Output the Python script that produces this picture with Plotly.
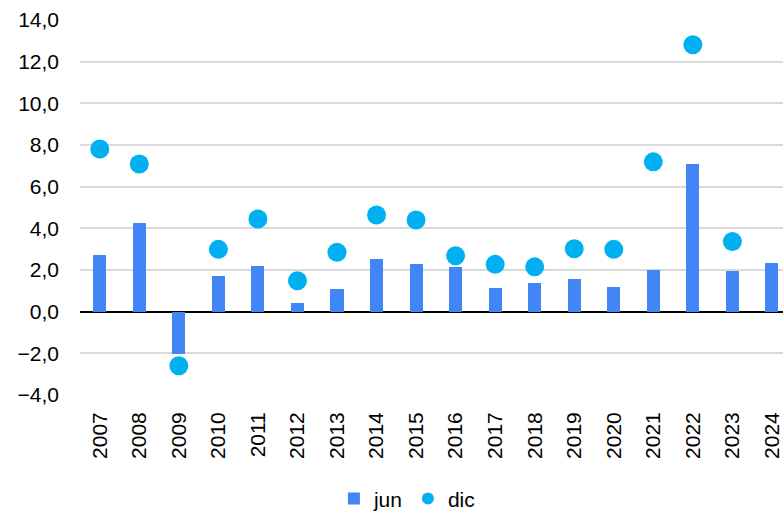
import plotly.graph_objects as go

# Annual values: June (bars) and December (dots)
years = [str(y) for y in range(2007, 2025)]
jun = [2.72, 4.27, -2.05, 1.72, 2.19, 0.42, 1.08, 2.54, 2.31, 2.15,
       1.15, 1.39, 1.56, 1.19, 2.00, 7.08, 1.95, 2.36]
dic = [7.81, 7.09, -2.60, 2.99, 4.45, 1.48, 2.85, 4.64, 4.40, 2.68,
       2.27, 2.15, 3.02, 2.99, 7.19, 12.81, 3.37, None]

y_ticks = [-4, -2, 0, 2, 4, 6, 8, 10, 12, 14]

FONT = "Liberation Sans, Arial, sans-serif"

fig = go.Figure()
fig.add_trace(go.Bar(
    x=years, y=jun, name="jun",
    marker=dict(color="#4285F4", line=dict(width=0)),
    width=0.33,
))
fig.add_trace(go.Scatter(
    x=years, y=dic, name="dic", mode="markers",
    marker=dict(color="#00B0F0", size=19, line=dict(width=0)),
))

fig.update_layout(
    width=783, height=512,
    margin=dict(l=80, r=0, t=20, b=117, autoexpand=False),
    paper_bgcolor="white", plot_bgcolor="white",
    separators=",.",
    font=dict(family=FONT, size=21, color="#000000"),
    showlegend=True,
    legend=dict(
        orientation="h", x=0.465, xanchor="center", y=-0.222, yanchor="top",
        font=dict(size=21), itemwidth=30, tracegroupgap=0,
        itemsizing="constant",
    ),
    bargap=0,
)
fig.update_xaxes(
    type="category",
    range=[-0.5, 17.28],
    tickangle=-90,
    showgrid=False, zeroline=False, showline=False,
    ticks="", ticklabelstandoff=12, automargin=False,
    tickfont=dict(size=21),
)
fig.update_yaxes(
    range=[-4, 14],
    tickvals=y_ticks,
    tickformat=".1f",
    showgrid=True, gridcolor="#D9D9D9", gridwidth=1.5,
    zeroline=True, zerolinecolor="#000000", zerolinewidth=2,
    showline=False, ticks="", ticklabelstandoff=20, automargin=False,
    tickfont=dict(size=21),
)

fig.write_html("out.html")
